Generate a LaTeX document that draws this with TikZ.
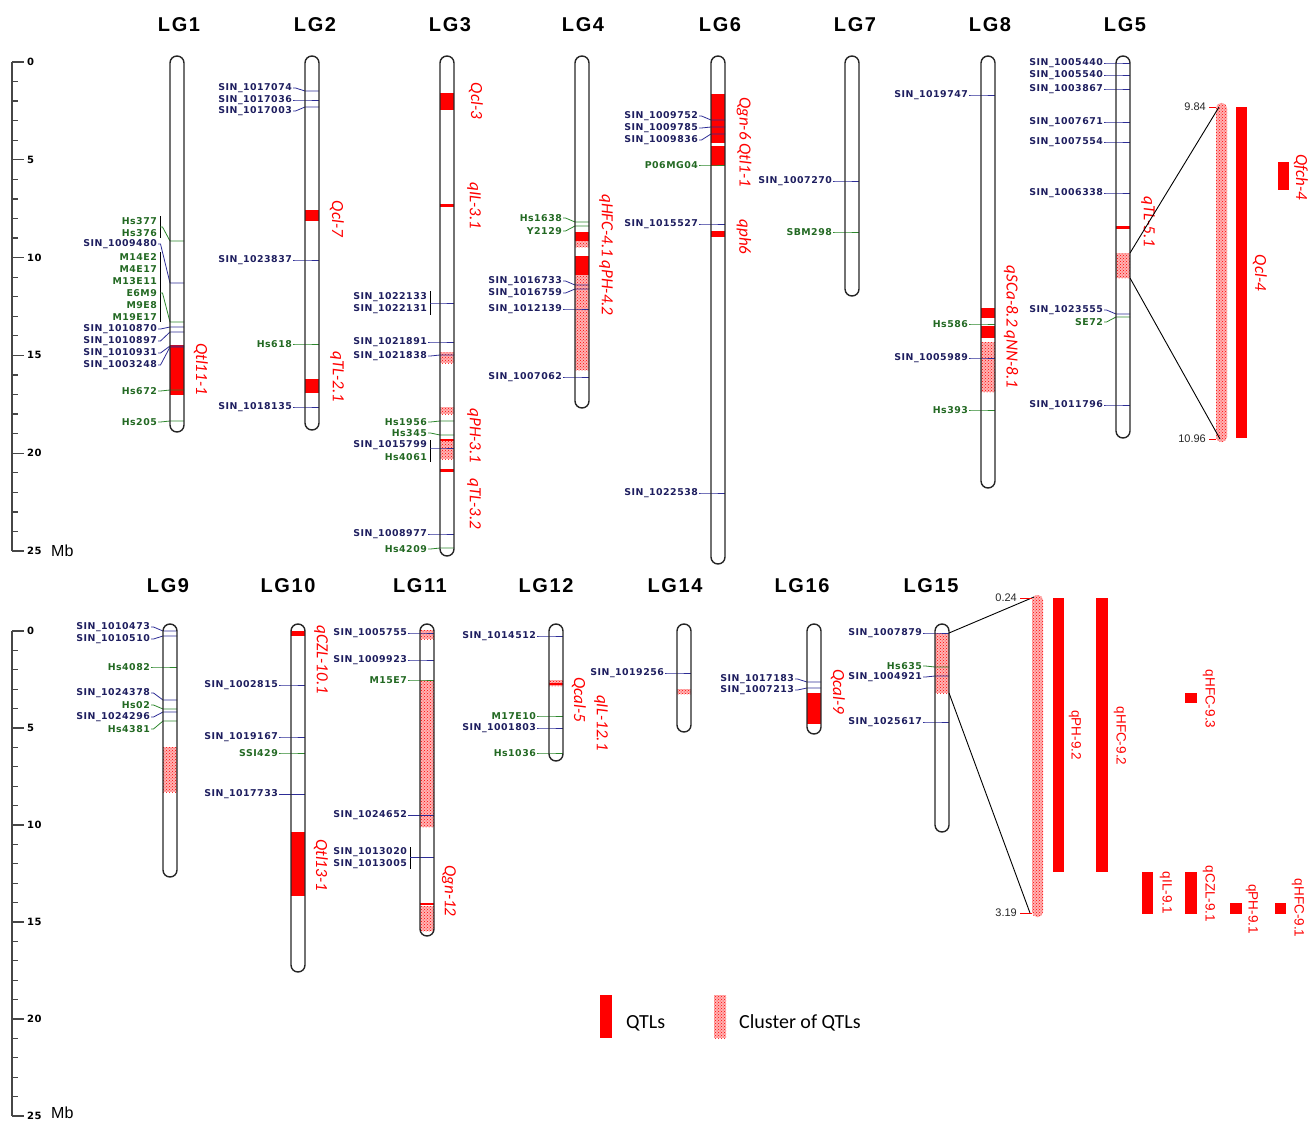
\documentclass[tikz,border=0pt]{standalone}
\usepackage{fontspec}
\setmainfont{Liberation Sans}
\newfontfamily\mkfont{DejaVu Sans}[LetterSpace=5]
\newfontfamily\lgfont{Liberation Sans}[LetterSpace=8]
\newfontfamily\qfont{Carlito}
\usetikzlibrary{patterns}
\definecolor{sintxt}{RGB}{30,30,95}
\definecolor{sinln}{RGB}{45,45,150}
\definecolor{hstxt}{RGB}{35,105,35}
\definecolor{hsln}{RGB}{45,135,45}
\definecolor{axisgray}{RGB}{70,70,70}
\newcommand{\mklab}[5]{\node[mlab,text=#3txt] (#1) at (#4-12,#5) {#2};}
\newcommand{\mk}[6]{%
  \mklab{#1}{#2}{#3}{#4}{#5}
  \coordinate (#1m) at (#4,#6);
  \draw[#3ln,mline] (#1.east) -- ++(2.5,0) -- (#1m) -- ++(14,0);}
\newcommand{\chromo}[3]{\draw[chromo] (#1,#2) rectangle (#1+14,#3);}
\begin{document}
\begin{tikzpicture}[x=1pt,y=-1pt,every node/.style={inner sep=1pt},
  mlab/.style={anchor=east,font=\mkfont\bfseries\fontsize{9.4}{9.4}\selectfont},
  mline/.style={line width=0.8pt},
  brk/.style={black,line width=0.9pt},
  chromo/.style={black!85,line width=1.4pt,rounded corners=7pt},
  qtl/.style={fill=red},
  hatch/.style={preaction={fill=red!30},pattern=crosshatch dots,pattern color=red},
  qlab/.style={text=red,rotate=-90,font=\qfont\itshape\fontsize{17}{17}\selectfont},
  q9lab/.style={text=red,rotate=-90,font=\fontsize{13.5}{13.5}\selectfont},
  lgtitle/.style={font=\lgfont\bfseries\fontsize{20}{20}\selectfont},
  scalelab/.style={anchor=west,font=\mkfont\bfseries\fontsize{10}{10}\selectfont},
  mblab/.style={anchor=west,font=\fontsize{16}{16}\selectfont},
  numlab/.style={anchor=east,text=black!85,font=\fontsize{11}{11}\selectfont},
  zoomln/.style={black,line width=0.9pt},
  axis/.style={axisgray,line width=1.3pt},
  leglab/.style={anchor=west,font=\qfont\fontsize{20}{20}\selectfont}]
  \useasboundingbox (0,0) rectangle (1316,1121);
  % scales
  \draw[axis] (12,62) -- (12,551);
  \foreach \i in {0,...,25} \draw[axis] (12,62+19.56*\i) -- ++(6,0);
  \foreach \i in {0,5,...,25} {
    \draw[axis] (12,62+19.56*\i) -- ++(12,0);
    \node[scalelab] (ta\i) at (26,62+19.56*\i) {\i};
  }
  \node[mblab] (mbt) at (50,551) {Mb};
  \draw[axis] (12,631) -- (12,1116);
  \foreach \i in {0,...,25} \draw[axis] (12,631+19.4*\i) -- ++(6,0);
  \foreach \i in {0,5,...,25} {
    \draw[axis] (12,631+19.4*\i) -- ++(12,0);
    \node[scalelab] (tb\i) at (26,631+19.4*\i) {\i};
  }
  \node[mblab] (mbb) at (50,1113) {Mb};
  % titles
  \node[lgtitle] (lg1) at (179,25) {LG1};
  \node[lgtitle] (lg2) at (315,25) {LG2};
  \node[lgtitle] (lg3) at (450,25) {LG3};
  \node[lgtitle] (lg4) at (583,25) {LG4};
  \node[lgtitle] (lg6) at (720,25) {LG6};
  \node[lgtitle] (lg7) at (855,25) {LG7};
  \node[lgtitle] (lg8) at (990,25) {LG8};
  \node[lgtitle] (lg5) at (1125,25) {LG5};
  \node[lgtitle] (lg9) at (168,586) {LG9};
  \node[lgtitle] (lg10) at (288,586) {LG10};
  \node[lgtitle] (lg11) at (420,586) {LG11};
  \node[lgtitle] (lg12) at (546,586) {LG12};
  \node[lgtitle] (lg14) at (675,586) {LG14};
  \node[lgtitle] (lg16) at (802,586) {LG16};
  \node[lgtitle] (lg15) at (931,586) {LG15};
  % LG1
  \fill[qtl] (170,345) rectangle (184,395);
  \mklab{hs377}{Hs377}{hs}{170}{221}
  \mklab{hs376}{Hs376}{hs}{170}{233}
  \draw[brk] (160,216) -- (160,238);
  \coordinate (b1) at (160,227);
  \coordinate (hs376m) at (170,241);
  \draw[hsln,mline] (b1) -- ++(2.5,0) -- (hs376m) -- ++(14,0);
  \mk{s1009480}{SIN\_1009480}{sin}{170}{244}{283}
  \mklab{m14e2}{M14E2}{hs}{170}{257}
  \mklab{m4e17}{M4E17}{hs}{170}{269}
  \mklab{m13e11}{M13E11}{hs}{170}{281}
  \mklab{e6m9}{E6M9}{hs}{170}{293}
  \mklab{m9e8}{M9E8}{hs}{170}{305}
  \mklab{m19e17}{M19E17}{hs}{170}{317}
  \draw[brk] (160,252) -- (160,322);
  \coordinate (b2) at (160,293);
  \coordinate (e6m9m) at (170,322);
  \draw[hsln,mline] (b2) -- ++(2.5,0) -- (e6m9m) -- ++(14,0);
  \mk{s1010870}{SIN\_1010870}{sin}{170}{329}{327}
  \mk{s1010897}{SIN\_1010897}{sin}{170}{341}{332}
  \mk{s1010931}{SIN\_1010931}{sin}{170}{353}{346}
  \mk{s1003248}{SIN\_1003248}{sin}{170}{365}{347}
  \mk{hs672}{Hs672}{hs}{170}{391}{390}
  \mk{hs205}{Hs205}{hs}{170}{422}{421}
  \chromo{170}{56}{432}
  \node[qlab] (q1) at (201,369) {Qtl11-1};
  % LG2
  \fill[qtl] (305,210) rectangle (319,221);
  \fill[qtl] (305,379) rectangle (319,393);
  \mk{s1017074}{SIN\_1017074}{sin}{305}{88}{91}
  \mk{s1017036}{SIN\_1017036}{sin}{305}{100}{100}
  \mk{s1017003}{SIN\_1017003}{sin}{305}{111}{107}
  \mk{s1023837}{SIN\_1023837}{sin}{305}{260}{260}
  \mk{hs618}{Hs618}{hs}{305}{344}{344}
  \mk{s1018135}{SIN\_1018135}{sin}{305}{407}{407}
  \chromo{305}{56}{430}
  \node[qlab] (q2a) at (337,219) {Qcl-7};
  \node[qlab] (q2b) at (337,377) {qTL-2.1};
  % LG3
  \fill[qtl] (440,93) rectangle (454,110);
  \fill[qtl] (440,204) rectangle (454,207);
  \path[hatch] (440,352) rectangle (454,363);
  \path[hatch] (440,407) rectangle (454,414);
  \path[hatch] (440,440) rectangle (454,459);
  \fill[qtl] (440,439) rectangle (454,441);
  \fill[qtl] (440,469) rectangle (454,472);
  \mklab{s1022133}{SIN\_1022133}{sin}{440}{297}
  \mklab{s1022131}{SIN\_1022131}{sin}{440}{309}
  \draw[brk] (430,291) -- (430,315);
  \coordinate (b3) at (430,303);
  \coordinate (s1022131m) at (440,303);
  \draw[sinln,mline] (b3) -- (s1022131m) -- ++(14,0);
  \mk{s1021891}{SIN\_1021891}{sin}{440}{342}{342}
  \mk{s1021838}{SIN\_1021838}{sin}{440}{356}{355}
  \mk{hs1956}{Hs1956}{hs}{440}{422}{421}
  \mk{hs345}{Hs345}{hs}{440}{433}{435}
  \mklab{s1015799}{SIN\_1015799}{sin}{440}{445}
  \mklab{hs4061}{Hs4061}{hs}{440}{457}
  \draw[brk] (430,440) -- (430,462);
  \coordinate (b4) at (430,448);
  \coordinate (s1015799m) at (440,448);
  \draw[sinln,mline] (b4) -- (s1015799m) -- ++(14,0);
  \mk{s1008977}{SIN\_1008977}{sin}{440}{534}{534}
  \mk{hs4209}{Hs4209}{hs}{440}{549}{548}
  \chromo{440}{56}{556}
  \node[qlab] (q3a) at (476,101) {Qcl-3};
  \node[qlab] (q3b) at (474,206) {qIL-3.1};
  \node[qlab] (q3c) at (474,436) {qPH-3.1};
  \node[qlab] (q3d) at (474,504) {qTL-3.2};
  % LG4
  \fill[qtl] (575,232) rectangle (589,241);
  \path[hatch] (575,241) rectangle (589,247);
  \fill[qtl] (575,256) rectangle (589,275);
  \path[hatch] (575,275) rectangle (589,370);
  \mk{hs1638}{Hs1638}{hs}{575}{218}{222}
  \mk{y2129}{Y2129}{hs}{575}{231}{226}
  \mk{s1016733}{SIN\_1016733}{sin}{575}{281}{285}
  \mk{s1016759}{SIN\_1016759}{sin}{575}{293}{289}
  \mk{s1012139}{SIN\_1012139}{sin}{575}{309}{309}
  \mk{s1007062}{SIN\_1007062}{sin}{575}{377}{377}
  \chromo{575}{56}{408}
  \node[qlab] (q4) at (606,255) {qHFC-4.1 qPH-4.2};
  % LG6
  \fill[qtl] (711,94) rectangle (725,143);
  \fill[qtl] (711,146) rectangle (725,166);
  \fill[qtl] (711,231) rectangle (725,237);
  \mk{s1009752}{SIN\_1009752}{sin}{711}{116}{120}
  \mk{s1009785}{SIN\_1009785}{sin}{711}{128}{127}
  \mk{s1009836}{SIN\_1009836}{sin}{711}{140}{134}
  \mk{p06mg04}{P06MG04}{hs}{711}{165}{165}
  \mk{s1015527}{SIN\_1015527}{sin}{711}{224}{224}
  \mk{s1022538}{SIN\_1022538}{sin}{711}{493}{493}
  \chromo{711}{56}{564}
  \node[qlab] (q6a) at (744,142) {Qgn-6 Qtl1-1};
  \node[qlab] (q6b) at (744,237) {qph6};
  % LG7
  \mk{s1007270}{SIN\_1007270}{sin}{845}{181}{181}
  \mk{sbm298}{SBM298}{hs}{845}{232}{232}
  \chromo{845}{56}{296}
  % LG8
  \fill[qtl] (981,308) rectangle (995,318);
  \fill[qtl] (981,326) rectangle (995,338);
  \path[hatch] (981,342) rectangle (995,392);
  \mk{s1019747}{SIN\_1019747}{sin}{981}{95}{95}
  \mk{hs586}{Hs586}{hs}{981}{324}{324}
  \mk{s1005989}{SIN\_1005989}{sin}{981}{358}{358}
  \mk{hs393}{Hs393}{hs}{981}{410}{410}
  \chromo{981}{56}{488}
  \node[qlab] (q8) at (1011,327) {qSCa-8.2 qNN-8.1};
  % LG5
  \fill[qtl] (1116,226) rectangle (1130,229);
  \path[hatch] (1116,253) rectangle (1130,278);
  \mk{s1005440}{SIN\_1005440}{sin}{1116}{63}{63}
  \mk{s1005540}{SIN\_1005540}{sin}{1116}{75}{75}
  \mk{s1003867}{SIN\_1003867}{sin}{1116}{89}{89}
  \mk{s1007671}{SIN\_1007671}{sin}{1116}{122}{122}
  \mk{s1007554}{SIN\_1007554}{sin}{1116}{142}{142}
  \mk{s1006338}{SIN\_1006338}{sin}{1116}{193}{193}
  \mk{s1023555}{SIN\_1023555}{sin}{1116}{310}{314}
  \mk{se72}{SE72}{hs}{1116}{322}{317}
  \mk{s1011796}{SIN\_1011796}{sin}{1116}{405}{405}
  \chromo{1116}{56}{438}
  \node[qlab] (q5) at (1148,222) {qTL-5.1};
  % LG5 zoom
  \path[hatch,rounded corners=5pt] (1216,103) rectangle (1227,442);
  \coordinate (z1a) at (1130,253);
  \coordinate (z1b) at (1130,278);
  \coordinate (z1c) at (1219,107);
  \coordinate (z1d) at (1220,439);
  \draw[zoomln] (z1a) -- (z1c);
  \draw[zoomln] (z1b) -- (z1d);
  \node[numlab] (n984) at (1207,107) {9.84};
  \node[numlab] (n1096) at (1207,439) {10.96};
  \draw[red,mline] (n984.east) ++(2,0) -- (1216,107);
  \draw[red,mline] (n1096.east) ++(2,0) -- (1216,439);
  \fill[qtl] (1236,107) rectangle (1247,438);
  \node[qlab] (q5b) at (1260,273) {Qcl-4};
  \fill[qtl] (1278,162) rectangle (1289,190);
  \node[qlab] (q5c) at (1301,177) {Qfch-4};
  % LG9
  \path[hatch] (163,747) rectangle (177,792);
  \mk{s1010473}{SIN\_1010473}{sin}{163}{627}{631}
  \mk{s1010510}{SIN\_1010510}{sin}{163}{639}{636}
  \mk{hs4082}{Hs4082}{hs}{163}{667}{667}
  \mk{s1024378}{SIN\_1024378}{sin}{163}{693}{700}
  \mk{hs02}{Hs02}{hs}{163}{705}{709}
  \mk{s1024296}{SIN\_1024296}{sin}{163}{717}{712}
  \mk{hs4381}{Hs4381}{hs}{163}{729}{721}
  \chromo{163}{624}{877}
  % LG10
  \fill[qtl] (291,631) rectangle (305,636);
  \fill[qtl] (291,832) rectangle (305,896);
  \mk{s1002815}{SIN\_1002815}{sin}{291}{685}{685}
  \mk{s1019167}{SIN\_1019167}{sin}{291}{737}{737}
  \mk{ssi429}{SSI429}{hs}{291}{753}{753}
  \mk{s1017733}{SIN\_1017733}{sin}{291}{794}{794}
  \chromo{291}{624}{972}
  \node[qlab] (q10a) at (321,660) {qCZL-10.1};
  \node[qlab] (q10b) at (321,865) {Qtl13-1};
  % LG11
  \path[hatch] (420,630) rectangle (434,639);
  \path[hatch] (420,680) rectangle (434,827);
  \fill[qtl] (420,903) rectangle (434,905);
  \path[hatch] (420,906) rectangle (434,931);
  \mk{s1005755}{SIN\_1005755}{sin}{420}{633}{633}
  \mk{s1009923}{SIN\_1009923}{sin}{420}{660}{660}
  \mk{m15e7}{M15E7}{hs}{420}{680}{680}
  \mk{s1024652}{SIN\_1024652}{sin}{420}{815}{815}
  \mklab{s1013020}{SIN\_1013020}{sin}{420}{852}
  \mklab{s1013005}{SIN\_1013005}{sin}{420}{864}
  \draw[brk] (410,847) -- (410,869);
  \coordinate (b5) at (410,857);
  \coordinate (s1013005m) at (420,857);
  \draw[sinln,mline] (b5) -- (s1013005m) -- ++(14,0);
  \chromo{420}{624}{936}
  \node[qlab] (q11) at (449,891) {Qgn-12};
  % LG12
  \path[hatch] (549,680) rectangle (563,686);
  \fill[qtl] (549,683) rectangle (563,685);
  \mk{s1014512}{SIN\_1014512}{sin}{549}{636}{636}
  \mk{m17e10}{M17E10}{hs}{549}{716}{716}
  \mk{s1001803}{SIN\_1001803}{sin}{549}{728}{728}
  \mk{hs1036}{Hs1036}{hs}{549}{753}{753}
  \chromo{549}{624}{761}
  \node[qlab] (q12a) at (579,700) {Qcal-5};
  \node[qlab] (q12b) at (601,723) {qIL-12.1};
  % LG14
  \path[hatch] (677,689) rectangle (691,694);
  \mk{s1019256}{SIN\_1019256}{sin}{677}{673}{673}
  \chromo{677}{624}{732}
  % LG16
  \fill[qtl] (807,693) rectangle (821,724);
  \mk{s1017183}{SIN\_1017183}{sin}{807}{679}{682}
  \mk{s1007213}{SIN\_1007213}{sin}{807}{690}{688}
  \chromo{807}{624}{734}
  \node[qlab] (q16) at (838,692) {Qcal-9};
  % LG15
  \path[hatch] (935,633) rectangle (949,693);
  \mk{s1007879}{SIN\_1007879}{sin}{935}{633}{633}
  \mk{hs635}{Hs635}{hs}{935}{666}{667}
  \mk{s1004921}{SIN\_1004921}{sin}{935}{677}{676}
  \mk{s1025617}{SIN\_1025617}{sin}{935}{722}{722}
  \chromo{935}{624}{832}
  % LG15 zoom
  \path[hatch,rounded corners=5pt] (1032,595) rectangle (1043,917);
  \coordinate (z2a) at (949,633);
  \coordinate (z2b) at (949,693);
  \coordinate (z2c) at (1034,597);
  \coordinate (z2d) at (1030,913);
  \draw[zoomln] (z2a) -- (z2c);
  \draw[zoomln] (z2b) -- (z2d);
  \node[numlab] (n024) at (1018,598) {0.24};
  \node[numlab] (n319) at (1018,913) {3.19};
  \draw[red,mline] (n024.east) ++(2,0) -- (1032,598);
  \draw[red,mline] (n319.east) ++(2,0) -- (1032,913);
  \fill[qtl] (1053,598) rectangle (1064,872);
  \node[q9lab] (q9a) at (1075,735) {qPH-9.2};
  \fill[qtl] (1096,598) rectangle (1108,872);
  \node[q9lab] (q9b) at (1120,736) {qHFC-9.2};
  \fill[qtl] (1185,693) rectangle (1197,703);
  \node[q9lab] (q9c) at (1209,699) {qHFC-9.3};
  \fill[qtl] (1142,872) rectangle (1153,914);
  \node[q9lab] (q9d) at (1166,893) {qIL-9.1};
  \fill[qtl] (1185,872) rectangle (1197,914);
  \node[q9lab] (q9e) at (1209,894) {qCZL-9.1};
  \fill[qtl] (1230,903) rectangle (1242,914);
  \node[q9lab] (q9f) at (1252,909) {qPH-9.1};
  \fill[qtl] (1275,903) rectangle (1286,914);
  \node[q9lab] (q9g) at (1298,908) {qHFC-9.1};
  % legend
  \fill[qtl] (600,995) rectangle (612,1038);
  \node[leglab] (legq) at (625,1023) {QTLs};
  \path[hatch] (714,995) rectangle (726,1038);
  \node[leglab] (legc) at (738,1023) {Cluster of QTLs};
\end{tikzpicture}
\end{document}
